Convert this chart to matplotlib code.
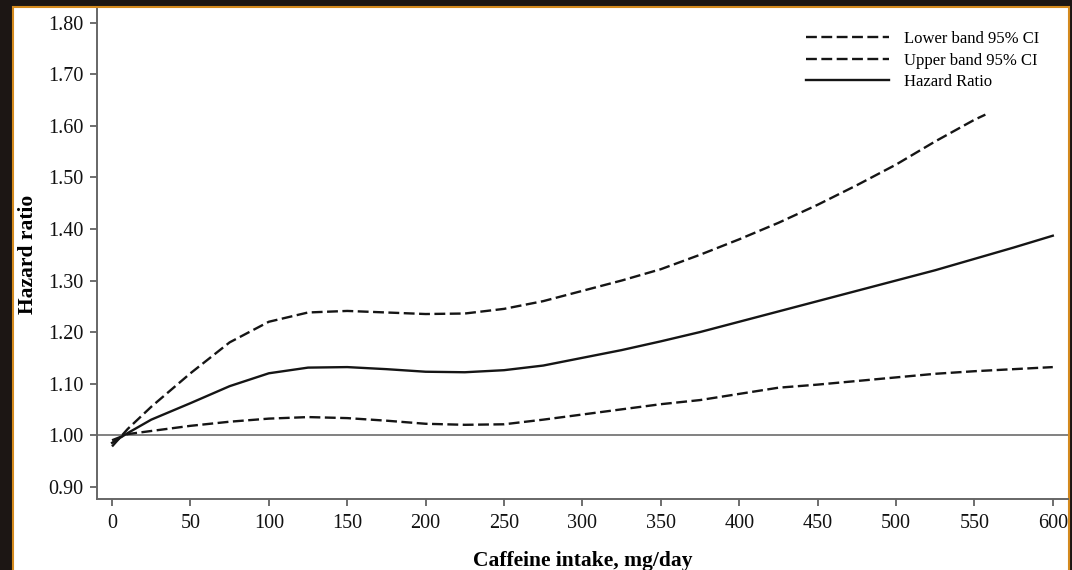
import numpy as np
import matplotlib
matplotlib.use('Agg')
from matplotlib import pyplot as plt
from matplotlib.patches import Rectangle

# caffeine intake, mg/day
caffeine = [0, 10, 25, 50, 75, 100, 125, 150, 175, 200, 225, 250, 275, 300,
            325, 350, 375, 400, 425, 450, 475, 500, 525, 550, 575, 600]
hazard_ratio = [0.985, 1.004, 1.030, 1.062, 1.095, 1.120, 1.131, 1.132, 1.128, 1.123,
                1.122, 1.126, 1.135, 1.150, 1.165, 1.182, 1.200, 1.220, 1.240,
                1.260, 1.280, 1.300, 1.320, 1.342, 1.364, 1.387]
lower_ci = [0.990, 1.002, 1.008, 1.018, 1.026, 1.032, 1.035, 1.033, 1.028, 1.022,
            1.020, 1.021, 1.030, 1.040, 1.050, 1.060, 1.068, 1.080, 1.092,
            1.098, 1.105, 1.112, 1.119, 1.124, 1.128, 1.132]
# upper band stops at ~557 mg/day
caffeine_upper = [0, 10, 25, 50, 75, 100, 125, 150, 175, 200, 225, 250, 275, 300,
                  325, 350, 375, 400, 425, 450, 475, 500, 525, 550, 557]
upper_ci = [0.978, 1.012, 1.055, 1.120, 1.180, 1.220, 1.238, 1.241, 1.238, 1.235,
            1.236, 1.245, 1.260, 1.280, 1.300, 1.322, 1.350, 1.380, 1.412,
            1.447, 1.485, 1.525, 1.570, 1.612, 1.622]

y_ticks = [0.90, 1.00, 1.10, 1.20, 1.30, 1.40, 1.50, 1.60, 1.70, 1.80]
x_ticks = [0, 50, 100, 150, 200, 250, 300, 350, 400, 450, 500, 550, 600]

plt.rcParams['font.family'] = ['Liberation Serif', 'DejaVu Serif']

W, H = 1072, 570
fig = plt.figure(figsize=(W / 100, H / 100), dpi=100, facecolor='#1c1614')

# white page with orange border
page = Rectangle((12.5 / W, -0.02), (1068.5 - 12.5) / W, (H - 7) / H + 0.02,
                 transform=fig.transFigure, facecolor='white',
                 edgecolor='#d48a1e', linewidth=1.5, zorder=-1)
fig.add_artist(page)

ax = fig.add_axes([97 / W, 1 - 499 / H, (1068 - 97) / W, (499 - 9) / H])
ax.set_facecolor('none')

dash = (0, (4.6, 1.9))
ax.plot(caffeine, lower_ci, color='#151515', lw=1.7, linestyle=dash, label='Lower band 95% CI')
ax.plot(caffeine_upper, upper_ci, color='#151515', lw=1.7, linestyle=dash, label='Upper band 95% CI')
ax.plot(caffeine, hazard_ratio, color='#151515', lw=1.7, label='Hazard Ratio')
ax.axhline(1.0, color='#777777', lw=1.3, zorder=1)

ax.set_xlim(-9.6, 609.7)
ax.set_ylim(0.876, 1.827)
ax.set_xticks(x_ticks)
ax.set_yticks(y_ticks)
ax.set_yticklabels(['%.2f' % v for v in y_ticks])

for side in ['top', 'right']:
  ax.spines[side].set_visible(False)
for side in ['left', 'bottom']:
  ax.spines[side].set_color('#666666')
  ax.spines[side].set_linewidth(1.4)
ax.tick_params(axis='both', direction='out', length=5, width=1.2, color='#555555',
               labelsize=14.5, labelcolor='#111111')
ax.tick_params(axis='x', pad=6)
ax.tick_params(axis='y', pad=5)

ax.set_xlabel('Caffeine intake, mg/day', fontsize=15.5, fontweight='bold', labelpad=12.5)
ax.set_ylabel('Hazard ratio', fontsize=15.5, fontweight='bold', labelpad=7)

ax.legend(loc='upper left', bbox_to_anchor=(806 / W, 1 - 31 / H),
          bbox_transform=fig.transFigure, frameon=False, fontsize=12,
          handlelength=5.0, handletextpad=0.9, labelspacing=0.34,
          borderpad=0, borderaxespad=0)

fig.savefig('out.png', dpi=100, facecolor=fig.get_facecolor())
